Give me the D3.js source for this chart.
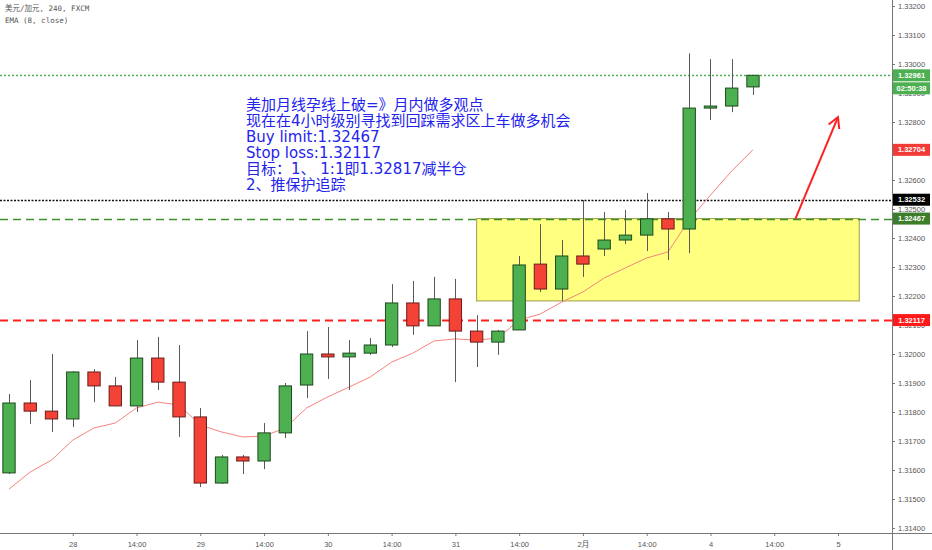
<!DOCTYPE html>
<html><head><meta charset="utf-8">
<script src="https://cdn.jsdelivr.net/npm/d3@7"></script>
<style>
html,body{margin:0;padding:0;background:#fff;}
svg{display:block;}
</style></head>
<body>
<svg id="chart" width="932" height="550"></svg>
<script>
// ---- data ----
const openP  = [1.31590,1.31831,1.31803,1.31776,1.31938,1.31890,1.31821,1.31986,1.31903,1.31783,1.31555,1.31645,1.31631,1.31728,1.31893,1.32000,1.31990,1.32003,1.32031,1.32176,1.32097,1.32190,1.32079,1.32041,1.32083,1.32310,1.32224,1.32338,1.32362,1.32393,1.32410,1.32466,1.32431,1.32848,1.32855,1.32921];
const highP  = [1.31862,1.31910,1.32000,1.31941,1.31948,1.31921,1.32048,1.32059,1.32031,1.31814,1.31652,1.31652,1.31762,1.31900,1.32079,1.32093,1.32048,1.32055,1.32241,1.32252,1.32266,1.32259,1.32134,1.32083,1.32338,1.32448,1.32393,1.32531,1.32490,1.32497,1.32555,1.32490,1.33037,1.33017,1.33017,1.32961];
const lowP   = [1.31586,1.31759,1.31731,1.31748,1.31834,1.31821,1.31800,1.31876,1.31714,1.31541,1.31552,1.31586,1.31603,1.31710,1.31848,1.31914,1.31876,1.31997,1.32024,1.32066,1.32097,1.31903,1.31955,1.31997,1.32083,1.32214,1.32183,1.32266,1.32338,1.32379,1.32355,1.32324,1.32348,1.32807,1.32834,1.32893];
const closeP = [1.31831,1.31803,1.31776,1.31938,1.31890,1.31821,1.31986,1.31903,1.31783,1.31555,1.31645,1.31631,1.31728,1.31890,1.32000,1.31990,1.32003,1.32031,1.32176,1.32097,1.32190,1.32079,1.32041,1.32079,1.32307,1.32224,1.32338,1.32310,1.32393,1.32410,1.32466,1.32431,1.32848,1.32855,1.32917,1.32961];
const emaP   = [1.31534,1.31593,1.31634,1.31703,1.31745,1.31762,1.31814,1.31834,1.31824,1.31755,1.31731,1.31714,1.31717,1.31745,1.31814,1.31852,1.31886,1.31921,1.31972,1.32003,1.32045,1.32052,1.32048,1.32055,1.32117,1.32138,1.32179,1.32214,1.32262,1.32297,1.32331,1.32352,1.32462,1.32548,1.32631,1.32704];

const timeTickIdx    = [3,6,9,12,15,18,21,24,27,30,33,36,39];
const timeTickLabels = ["28","14:00","29","14:00","30","14:00","31","14:00","2月","14:00","4","14:00","5"];
const priceTicks     = [1.314,1.315,1.316,1.317,1.318,1.319,1.320,1.321,1.322,1.323,1.324,1.325,1.326,1.327,1.328,1.329,1.330,1.331,1.332];

const lastPrice = 1.32961, countdown = "02:50:38";
const emaLast = 1.32704;
const hiLevel = 1.32532;
const buyLimit = 1.32467;
const stopLoss = 1.32117;
const zoneTop = 1.32467, zoneBottom = 1.32183, zoneStartIdx = 22, zoneEndIdx = 40;
const arrowFrom = [37, 1.32467], arrowTo = [39, 1.32817];

const headerLines = ["美元/加元, 240, FXCM", "EMA (8, close)"];
const noteLines = ["美加月线孕线上破=》月内做多观点","现在在4小时级别寻找到回踩需求区上车做多机会","Buy limit:1.32467","Stop loss:1.32117","目标：1、 1:1即1.32817减半仓","2、推保护追踪"];

// ---- drawing ----
const W = 932, H = 550, axisX = 892, axisY = 533;
const svg = d3.select("#chart");
const x = d3.scaleLinear().domain([0, 39]).range([9, 838]);
const y = d3.scaleLinear().domain([1.314, 1.332]).range([528, 6]);
const step = x(1) - x(0);
const bodyW = step * 0.58;

const plot = svg.append("g");

// demand zone
plot.append("rect")
  .attr("x", x(zoneStartIdx)).attr("y", y(zoneTop))
  .attr("width", x(zoneEndIdx) - x(zoneStartIdx))
  .attr("height", y(zoneBottom) - y(zoneTop))
  .attr("fill", "#ffff80").attr("stroke", "#9c9c4a").attr("stroke-width", 1);

// horizontal levels
function hline(p, color, dash, w) {
  plot.append("line").attr("x1", 0).attr("x2", axisX)
    .attr("y1", Math.round(y(p)) + 0.5).attr("y2", Math.round(y(p)) + 0.5)
    .attr("stroke", color).attr("stroke-width", w).attr("stroke-dasharray", dash);
}
hline(lastPrice, "#4cb050", "2,2", 1.3);
hline(hiLevel, "#111", "2,1.5", 1.4);
hline(buyLimit, "#3f8f2f", "8,5", 1.5);
hline(stopLoss, "#ff2020", "8,5", 2);

// EMA
plot.append("path")
  .datum(emaP)
  .attr("d", d3.line().x((d, i) => x(i)).y(d => y(d)))
  .attr("fill", "none").attr("stroke", "#f7837b").attr("stroke-width", 1);

// candles
const candles = plot.selectAll("g.c").data(openP.map((o, i) => ({i, o, h: highP[i], l: lowP[i], c: closeP[i]})))
  .enter().append("g");
candles.append("line")
  .attr("x1", d => Math.round(x(d.i)) + 0.5).attr("x2", d => Math.round(x(d.i)) + 0.5)
  .attr("y1", d => y(d.h)).attr("y2", d => y(d.l))
  .attr("stroke", "#5a5a5a").attr("stroke-width", 1);
candles.append("rect")
  .attr("x", d => x(d.i) - bodyW / 2)
  .attr("y", d => y(Math.max(d.o, d.c)))
  .attr("width", bodyW)
  .attr("height", d => Math.max(1, Math.abs(y(d.o) - y(d.c))))
  .attr("fill", d => d.c >= d.o ? "#4caf50" : "#f44336")
  .attr("stroke", d => d.c >= d.o ? "#1e4a1e" : "#6a1c1c")
  .attr("stroke-width", 1);

// arrow
const ax1 = x(arrowFrom[0]), ay1 = y(arrowFrom[1]), ax2 = x(arrowTo[0]), ay2 = y(arrowTo[1]);
plot.append("line").attr("x1", ax1).attr("y1", ay1).attr("x2", ax2).attr("y2", ay2)
  .attr("stroke", "#ff2020").attr("stroke-width", 2);
const ang = Math.atan2(ay2 - ay1, ax2 - ax1), hl = 12, ha = 0.5;
plot.append("path")
  .attr("d", `M${ax2 + hl * Math.cos(ang + Math.PI - ha)},${ay2 + hl * Math.sin(ang + Math.PI - ha)} L${ax2},${ay2} L${ax2 + hl * Math.cos(ang + Math.PI + ha)},${ay2 + hl * Math.sin(ang + Math.PI + ha)}`)
  .attr("fill", "none").attr("stroke", "#ff2020").attr("stroke-width", 2);

// note text
const note = svg.append("text")
  .attr("font-family", "'DejaVu Sans','Noto Sans CJK SC',sans-serif")
  .attr("font-size", 15).attr("fill", "#2323ee");
noteLines.forEach((t, k) => {
  note.append("tspan").attr("x", 246).attr("y", 110 + k * 16).text(t);
});

// header
svg.selectAll("text.hdr").data(headerLines).enter().append("text")
  .attr("x", 5).attr("y", (d, i) => 11 + i * 12)
  .attr("font-family", "'DejaVu Sans Mono','Noto Sans CJK SC',monospace")
  .attr("font-size", 7.5).attr("fill", "#555").text(d => d);

// price axis
const yAxis = d3.axisRight(y).tickValues(priceTicks).tickFormat(d3.format(".5f")).tickSize(3).tickPadding(3);
const gy = svg.append("g").attr("transform", `translate(${axisX},0)`).call(yAxis);
gy.select(".domain").remove();
gy.selectAll("line").attr("stroke", "#777");
gy.selectAll("text").attr("font-family", "'Liberation Sans',Arial,sans-serif").attr("font-size", 7.5).attr("fill", "#555");
svg.append("line").attr("x1", axisX + 0.5).attr("x2", axisX + 0.5).attr("y1", 0).attr("y2", H)
  .attr("stroke", "#777").attr("stroke-width", 1);

// time axis
const xAxis = d3.axisBottom(x).tickValues(timeTickIdx)
  .tickFormat((d, i) => timeTickLabels[i]).tickSize(3).tickPadding(6);
const gx = svg.append("g").attr("transform", `translate(0,${axisY})`).call(xAxis);
gx.select(".domain").remove();
gx.selectAll("line").attr("stroke", "#777");
gx.selectAll("text").attr("font-family", "'Liberation Sans','Noto Sans CJK SC',Arial,sans-serif").attr("font-size", 7.5).attr("fill", "#555");
svg.append("line").attr("x1", 0).attr("x2", W).attr("y1", axisY + 0.5).attr("y2", axisY + 0.5)
  .attr("stroke", "#777").attr("stroke-width", 1);

// price labels on axis
function tag(p, txt, bg, dy) {
  const cy = y(p) + (dy || 0);
  svg.append("rect").attr("x", axisX + 1).attr("y", cy - 6).attr("width", 37).attr("height", 12).attr("fill", bg);
  svg.append("text").attr("x", axisX + 1 + 18.5).attr("y", cy + 2.6).attr("text-anchor", "middle")
    .attr("font-family", "'Liberation Sans',Arial,sans-serif").attr("font-size", 7.5)
    .attr("font-weight", "bold").attr("fill", "#fff").text(txt);
}
tag(lastPrice, d3.format(".5f")(lastPrice), "#4caf50");
tag(lastPrice, countdown, "#4caf50", 13);
tag(emaLast, d3.format(".5f")(emaLast), "#f23b36");
tag(hiLevel, d3.format(".5f")(hiLevel), "#000");
tag(buyLimit, d3.format(".5f")(buyLimit), "#3b7d2a");
tag(stopLoss, d3.format(".5f")(stopLoss), "#ff1a1a");
</script>
</body></html>
